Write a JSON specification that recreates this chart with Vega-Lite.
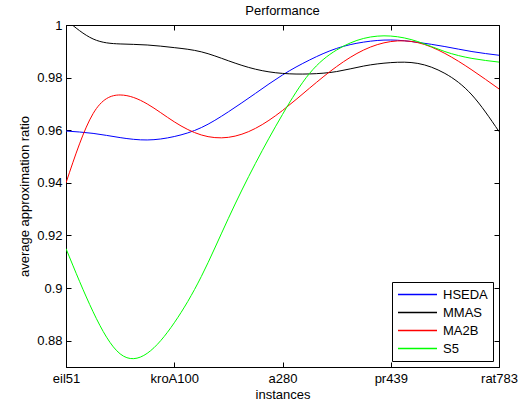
{
  "$schema": "https://vega.github.io/schema/vega-lite/v6.json",
  "width": 433,
  "height": 342,
  "autosize": {"type": "none"},
  "padding": {"left": 66, "top": 25, "right": 31, "bottom": 38},
  "background": "white",
  "title": {"text": "Performance", "fontSize": 13, "fontWeight": "normal", "font": "Liberation Sans", "color": "black", "offset": 1, "anchor": "middle"},
  "data": {"values": [
    {"s": "HSEDA", "x": 1, "v": 0.9597}, {"s": "HSEDA", "x": 1.25, "v": 0.9588}, {"s": "HSEDA", "x": 1.5, "v": 0.9572}, {"s": "HSEDA", "x": 1.75, "v": 0.9563}, {"s": "HSEDA", "x": 2, "v": 0.9576}, {"s": "HSEDA", "x": 2.25, "v": 0.961}, {"s": "HSEDA", "x": 2.5, "v": 0.967}, {"s": "HSEDA", "x": 2.75, "v": 0.974}, {"s": "HSEDA", "x": 3, "v": 0.981}, {"s": "HSEDA", "x": 3.25, "v": 0.9867}, {"s": "HSEDA", "x": 3.5, "v": 0.9911}, {"s": "HSEDA", "x": 3.75, "v": 0.9935}, {"s": "HSEDA", "x": 4, "v": 0.9943}, {"s": "HSEDA", "x": 4.25, "v": 0.9934}, {"s": "HSEDA", "x": 4.5, "v": 0.9918}, {"s": "HSEDA", "x": 4.75, "v": 0.9899}, {"s": "HSEDA", "x": 5, "v": 0.9885},
    {"s": "MMAS", "x": 1, "v": 1.002}, {"s": "MMAS", "x": 1.25, "v": 0.9947}, {"s": "MMAS", "x": 1.5, "v": 0.9928}, {"s": "MMAS", "x": 1.75, "v": 0.9924}, {"s": "MMAS", "x": 2, "v": 0.9914}, {"s": "MMAS", "x": 2.25, "v": 0.9898}, {"s": "MMAS", "x": 2.5, "v": 0.9864}, {"s": "MMAS", "x": 2.75, "v": 0.9832}, {"s": "MMAS", "x": 3, "v": 0.9816}, {"s": "MMAS", "x": 3.25, "v": 0.9814}, {"s": "MMAS", "x": 3.5, "v": 0.9823}, {"s": "MMAS", "x": 3.75, "v": 0.9844}, {"s": "MMAS", "x": 4, "v": 0.9857}, {"s": "MMAS", "x": 4.25, "v": 0.9854}, {"s": "MMAS", "x": 4.5, "v": 0.9816}, {"s": "MMAS", "x": 4.75, "v": 0.9734}, {"s": "MMAS", "x": 5, "v": 0.9595},
    {"s": "MA2B", "x": 1, "v": 0.94}, {"s": "MA2B", "x": 1.25, "v": 0.9663}, {"s": "MA2B", "x": 1.5, "v": 0.9734}, {"s": "MA2B", "x": 1.75, "v": 0.97}, {"s": "MA2B", "x": 2, "v": 0.9632}, {"s": "MA2B", "x": 2.25, "v": 0.9582}, {"s": "MA2B", "x": 2.5, "v": 0.9573}, {"s": "MA2B", "x": 2.75, "v": 0.9607}, {"s": "MA2B", "x": 3, "v": 0.9675}, {"s": "MA2B", "x": 3.25, "v": 0.976}, {"s": "MA2B", "x": 3.5, "v": 0.9842}, {"s": "MA2B", "x": 3.75, "v": 0.9905}, {"s": "MA2B", "x": 4, "v": 0.9937}, {"s": "MA2B", "x": 4.25, "v": 0.9933}, {"s": "MA2B", "x": 4.5, "v": 0.9892}, {"s": "MA2B", "x": 4.75, "v": 0.9829}, {"s": "MA2B", "x": 5, "v": 0.9757},
    {"s": "S5", "x": 1, "v": 0.915}, {"s": "S5", "x": 1.25, "v": 0.891}, {"s": "S5", "x": 1.5, "v": 0.875}, {"s": "S5", "x": 1.75, "v": 0.8752}, {"s": "S5", "x": 2, "v": 0.8868}, {"s": "S5", "x": 2.25, "v": 0.9044}, {"s": "S5", "x": 2.5, "v": 0.9265}, {"s": "S5", "x": 2.75, "v": 0.9474}, {"s": "S5", "x": 3, "v": 0.966}, {"s": "S5", "x": 3.25, "v": 0.9816}, {"s": "S5", "x": 3.5, "v": 0.9905}, {"s": "S5", "x": 3.75, "v": 0.9949}, {"s": "S5", "x": 4, "v": 0.9958}, {"s": "S5", "x": 4.25, "v": 0.9937}, {"s": "S5", "x": 4.5, "v": 0.9899}, {"s": "S5", "x": 4.75, "v": 0.9873}, {"s": "S5", "x": 5, "v": 0.9859}
  ]},
  "layer": [
    {
      "mark": {"type": "line", "interpolate": "natural", "clip": true, "strokeWidth": 1},
      "encoding": {
        "x": {"field": "x", "type": "quantitative", "scale": {"domain": [1, 5], "nice": false, "zero": false},
          "axis": {"orient": "bottom", "values": [1, 2, 3, 4, 5], "title": "instances", "labelExpr": "['', 'eil51', 'kroA100', 'a280', 'pr439', 'rat783'][datum.value]", "labelFlush": false, "labelOverlap": false, "tickSize": -5, "labelPadding": 10, "titlePadding": 3}},
        "y": {"field": "v", "type": "quantitative", "scale": {"domain": [0.87, 1], "nice": false, "zero": false},
          "axis": {"orient": "left", "values": [0.88, 0.9, 0.92, 0.94, 0.96, 0.98, 1], "format": ".2~f", "title": "average approximation ratio", "tickSize": -5, "labelPadding": 9, "titlePadding": 5}},
        "color": {"field": "s", "type": "nominal", "scale": {"domain": ["HSEDA", "MMAS", "MA2B", "S5"], "range": ["#0000ff", "#000000", "#ff0000", "#00ff00"]},
          "legend": {"title": null, "orient": "bottom-right", "offset": 6, "symbolType": "M-3,0H3", "symbolSize": 169, "symbolStrokeWidth": 1.3, "symbolOffset": 13, "labelFontSize": 13, "labelFont": "Liberation Sans", "labelColor": "black", "labelOffset": 18, "strokeColor": "black", "fillColor": "white", "padding": 5, "rowPadding": 3}}
      }
    },
    {
      "mark": {"type": "line", "opacity": 0, "clip": true},
      "encoding": {
        "x": {"field": "x", "type": "quantitative", "axis": {"orient": "top", "values": [1, 2, 3, 4, 5], "labels": false, "title": null, "tickSize": -5, "domain": false, "minExtent": 0, "maxExtent": 0}},
        "y": {"field": "v", "type": "quantitative", "axis": {"orient": "right", "values": [0.88, 0.9, 0.92, 0.94, 0.96, 0.98, 1], "labels": false, "title": null, "tickSize": -5, "domain": false, "minExtent": 0, "maxExtent": 0}},
        "detail": {"field": "s"}
      }
    }
  ],
  "resolve": {"axis": {"x": "independent", "y": "independent"}},
  "config": {
    "font": "Liberation Sans",
    "view": {"stroke": "black", "strokeWidth": 1},
    "axis": {"grid": false, "domainColor": "black", "tickColor": "black", "labelColor": "black", "titleColor": "black", "labelFontSize": 13, "titleFontSize": 13, "titleFontWeight": "normal", "labelFont": "Liberation Sans", "titleFont": "Liberation Sans"}
  }
}
